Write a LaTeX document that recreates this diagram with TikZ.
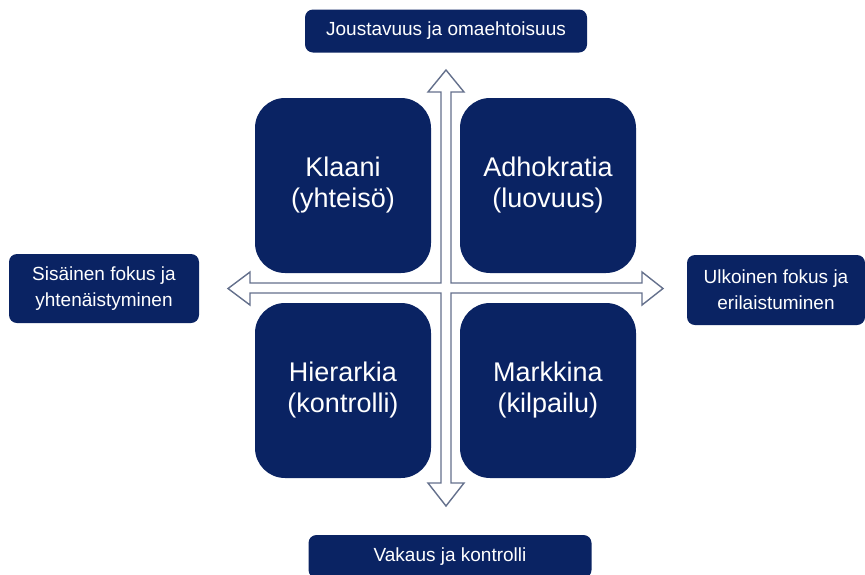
\documentclass[tikz,border=0pt]{standalone}
\usepackage{fontspec}
\setmainfont{Liberation Sans}
\definecolor{navy}{RGB}{10,35,99}
\definecolor{crossline}{RGB}{100,112,140}

\begin{document}
\begin{tikzpicture}[x=1pt,y=-1pt]
\useasboundingbox (0,0) rectangle (865,574);
% the cross of arrows
\draw[crossline, line width=1.4pt, fill=white, line join=miter]
    (451,92) -- (464,92) -- (446,70) -- (428,92) -- (441,92)
 -- (441,283) -- (250,283) -- (250,272) -- (228,288.5) -- (250,305) -- (250,293)
 -- (441,293) -- (441,483) -- (428,483) -- (446,506) -- (464,483) -- (451,483)
 -- (451,293) -- (642,293) -- (642,305) -- (663,288.5) -- (642,272) -- (642,283)
 -- (451,283) -- cycle;
\begin{scope}[every node/.style={rectangle,rounded corners=30pt,fill=navy,text=white,
    minimum width=176pt,minimum height=175pt,align=center,font=\fontsize{27}{31}\selectfont}]
    \node (klaani) at (343,185.5) {Klaani\\(yhteisö)};
    \node (adhokratia) at (548,185.5) {Adhokratia\\(luovuus)};
    \node (hierarkia) at (343,390.5) {Hierarkia\\(kontrolli)};
    \node (markkina) at (548,390.5) {Markkina\\(kilpailu)};
\end{scope}
\begin{scope}[every node/.style={rectangle,rounded corners=8pt,fill=navy,text=white,
    align=center,font=\fontsize{19}{26}\selectfont}]
    \node[minimum width=282pt,minimum height=43pt] (joustavuus) at (446,31) {Joustavuus ja omaehtoisuus};
    \node[minimum width=283pt,minimum height=43pt] (vakaus) at (450,556.5) {Vakaus ja kontrolli};
    \node[minimum width=190pt,minimum height=69pt] (sisainen) at (104,288.5) {Sisäinen fokus ja\\yhtenäistyminen};
    \node[minimum width=178pt,minimum height=70pt] (ulkoinen) at (776,290) {Ulkoinen fokus ja\\erilaistuminen};
\end{scope}
\end{tikzpicture}
\end{document}
